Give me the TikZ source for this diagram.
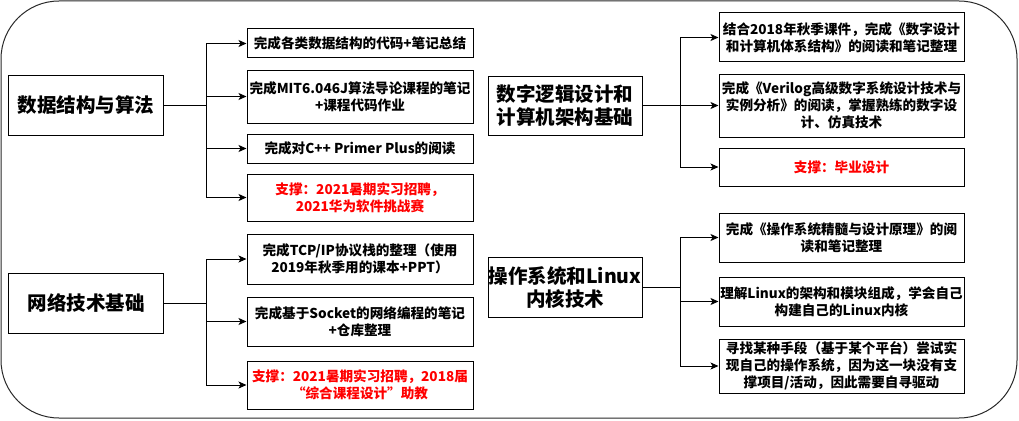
\documentclass[tikz,border=0pt]{standalone}
\usepackage{fontspec}
\usepackage{xcolor}
\usepackage{tikz}
\usetikzlibrary{arrows.meta}
\setmainfont{Noto Sans CJK SC}
\definecolor{framegray}{RGB}{40, 40, 40}
\definecolor{linkblack}{RGB}{0, 0, 0}
\definecolor{supportred}{RGB}{255, 0, 0}
\definecolor{textblack}{RGB}{0, 0, 0}

\begin{document}
\begin{tikzpicture}[
        x=1pt, y=-1pt,
        frame/.style={rectangle, draw=framegray, line width=1pt, rounded corners=58pt, minimum width=1016pt, minimum height=417pt, inner sep=0pt},
        topic/.style={rectangle, draw=linkblack, line width=1pt, minimum width=155pt, minimum height=60pt, inner sep=0pt, align=center, font=\fontsize{19.5pt}{23pt}\selectfont\bfseries, text=textblack},
        task/.style={rectangle, draw=linkblack, line width=1pt, inner sep=0pt, align=center, font=\fontsize{13.6pt}{17pt}\selectfont\bfseries, text=textblack},
        support/.style={task, text=supportred},
        flow/.style={-{Stealth[length=8pt, width=7pt, inset=2pt]}, line width=1pt, color=linkblack}
    ]
    \useasboundingbox (0,0) rectangle (1019,420);

    % Frame
    \node[frame] (board) at (509,209.5) {};

    % Topics
    \node[topic] (algo) at (86,105) {数据结构与算法};
    \node[topic] (net) at (86,303) {网络技术基础};
    \node[topic, minimum width=154pt, minimum height=59pt] (digital) at (565,105.5) {数字逻辑设计和\\计算机架构基础};
    \node[topic, minimum width=154pt] (os) at (565,287) {操作系统和Linux\\内核技术};

    % Branch points
    \coordinate (algofork) at (206,105);
    \coordinate (netfork) at (206,303);
    \coordinate (digitalfork) at (680,105.5);
    \coordinate (osfork) at (680,287);

    % Algorithm tasks
    \node[task, minimum width=226pt, minimum height=29pt] (algo1) at (360,43.5) {完成各类数据结构的代码+笔记总结};
    \node[task, minimum width=226pt, minimum height=53pt] (algo2) at (360,96.5) {完成MIT6.046J算法导论课程的笔记\\+课程代码作业};
    \node[task, minimum width=226pt, minimum height=29pt] (algo3) at (360,148.5) {完成对C++ Primer Plus的阅读};
    \node[support, minimum width=226pt, minimum height=47pt] (algo4) at (360,197.5) {支撑：2021暑期实习招聘，\\2021华为软件挑战赛};

    % Network tasks
    \node[task, minimum width=226pt, minimum height=50pt] (net1) at (360,259) {完成TCP/IP协议栈的整理（使用\\2019年秋季用的课本+PPT）};
    \node[task, minimum width=226pt, minimum height=49pt] (net2) at (360,321.5) {完成基于Socket的网络编程的笔记\\+仓库整理};
    \node[support, minimum width=226pt, minimum height=48pt] (net3) at (360,385) {支撑：2021暑期实习招聘，2018届\\“综合课程设计”助教};

    % Digital design tasks
    \node[task, minimum width=245pt, minimum height=49pt] (digital1) at (841.5,37.5) {结合2018年秋季课件，完成《数字设计\\和计算机体系结构》的阅读和笔记整理};
    \node[task, minimum width=245pt, minimum height=63pt] (digital2) at (841.5,105.5) {完成《Verilog高级数字系统设计技术与\\实例分析》的阅读，掌握熟练的数字设\\计、仿真技术};
    \node[support, minimum width=245pt, minimum height=38pt] (digital3) at (841.5,167) {支撑：毕业设计};

    % OS tasks
    \node[task, minimum width=245pt, minimum height=49pt] (os1) at (841.5,237.5) {完成《操作系统精髓与设计原理》的阅\\读和笔记整理};
    \node[task, minimum width=245pt, minimum height=49pt] (os2) at (841.5,301.5) {理解Linux的架构和模块组成，学会自己\\构建自己的Linux内核};
    \node[task, minimum width=245pt, minimum height=54pt] (os3) at (841.5,366) {寻找某种手段（基于某个平台）尝试实\\现自己的操作系统，因为这一块没有支\\撑项目/活动，因此需要自寻驱动};

    % Flows
    \foreach \t in {algo1, algo2, algo3, algo4}
        \draw[flow] (algo.east) -- (algofork) |- (\t.west);
    \foreach \t in {net1, net2, net3}
        \draw[flow] (net.east) -- (netfork) |- (\t.west);
    \foreach \t in {digital1, digital2, digital3}
        \draw[flow] (digital.east) -- (digitalfork) |- (\t.west);
    \foreach \t in {os1, os2, os3}
        \draw[flow] (os.east) -- (osfork) |- (\t.west);

    \end{tikzpicture}
\end{document}
